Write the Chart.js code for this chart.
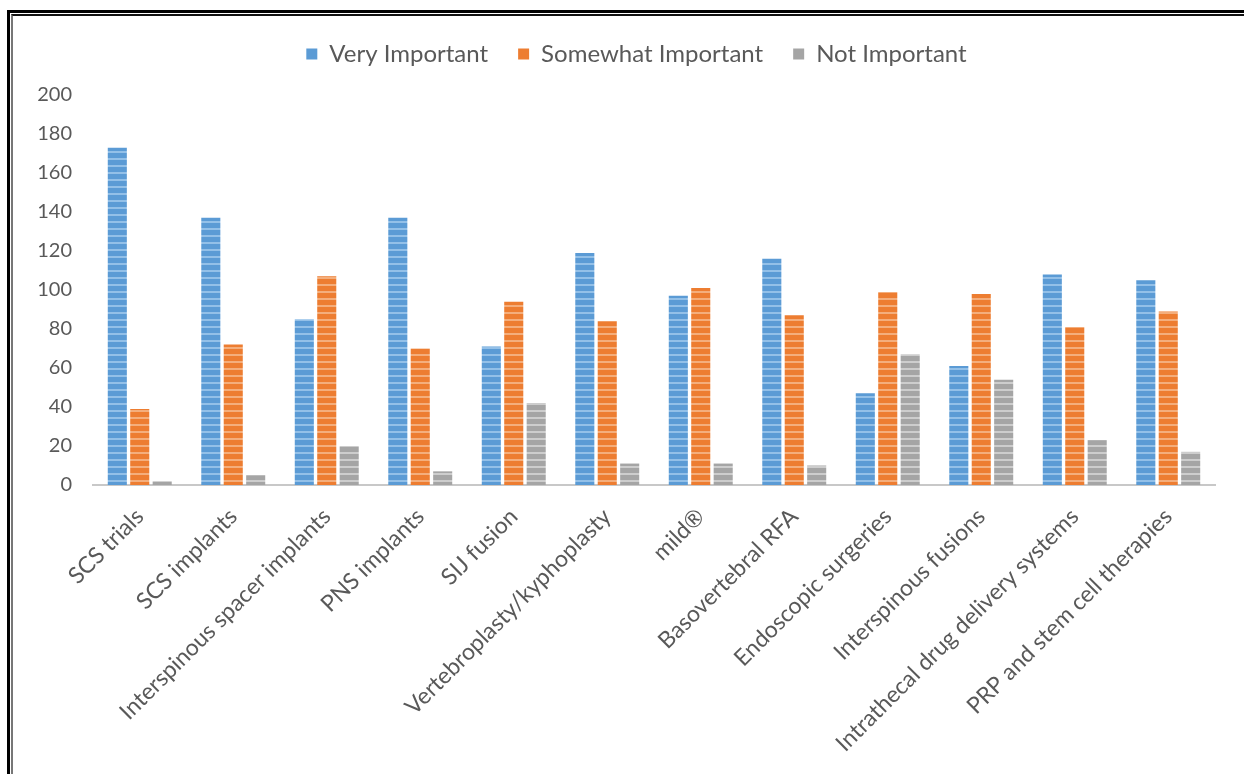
<!DOCTYPE html>
<html>
<head>
<meta charset="utf-8">
<title>Importance of procedures</title>
<script src="https://cdn.jsdelivr.net/npm/chart.js@4/dist/chart.umd.min.js"></script>
<style>
  html, body { margin: 0; padding: 0; background: #fff; }
  #page { position: relative; width: 1244px; height: 774px; overflow: hidden; }
  /* double rule along the top and left edges */
  .frame-outer { position: absolute; left: 7px; top: 10px; right: -20px; bottom: -20px;
    border-left: 3px solid #000; border-top: 3px solid #000; }
  .frame-inner { position: absolute; left: 11px; top: 14px; right: -20px; bottom: -20px;
    border-left: 2px solid #777; border-top: 2px solid #111; }
  #chart { position: absolute; left: 0; top: 0; }
</style>
</head>
<body>
<div id="page">
  <div class="frame-outer"></div>
  <div class="frame-inner"></div>
  <canvas id="chart" width="1244" height="774"></canvas>
</div>
<script>
// Procedure importance survey - grouped bar chart

const categories = [
  'SCS trials',
  'SCS implants',
  'Interspinous spacer implants',
  'PNS implants',
  'SIJ fusion',
  'Vertebroplasty/kyphoplasty',
  'mild\u00AE',
  'Basovertebral RFA',
  'Endoscopic surgeries',
  'Interspinous fusions',
  'Intrathecal drug delivery systems',
  'PRP and stem cell therapies'
];

const seriesNames = ['Very Important', 'Somewhat Important', 'Not Important'];

const veryImportant = [173, 137, 85, 137, 71, 119, 97, 116, 47, 61, 108, 105];
const somewhatImportant = [39, 72, 107, 70, 94, 84, 101, 87, 99, 98, 81, 89];
const notImportant = [2, 5, 20, 7, 42, 11, 11, 10, 67, 54, 23, 17];

const yTicks = [0, 20, 40, 60, 80, 100, 120, 140, 160, 180, 200];

const FONT = 'Lato, "Open Sans", sans-serif';
const TEXT_COLOR = '#595959';

const baseColors = ['#5b9bd5', '#ed7d31', '#a5a5a5'];
const stripeColors = ['#93c0e8', '#f4ae7c', '#cdcdcd'];

// ============================================================================
// Helpers
// ============================================================================

// Horizontal banding used to fill each bar
function makeStripes(ctx, base, light) {
  const tile = document.createElement('canvas');
  tile.width = 8;
  tile.height = 7;
  const t = tile.getContext('2d');
  t.fillStyle = base;
  t.fillRect(0, 0, 8, 7);
  t.fillStyle = light;
  t.fillRect(0, 4, 8, 2);
  return ctx.createPattern(tile, 'repeat');
}

// Pins the plot area so the axes land where they should
const PLOT = { left: 93, right: 1215, top: 95, bottom: 485 };
const PAD_TOP = 12;
const LEGEND_SHIFT = 29;

const legendPlacement = {
  id: 'legendPlacement',
  beforeInit(chart) {
    const fit = chart.legend.fit;
    chart.legend.fit = function () {
      fit.bind(chart.legend)();
      this.height = PLOT.top - PAD_TOP;
    };
  },
  afterLayout(chart) {
    // legend sits a little right of the canvas centre
    chart.legend.left += LEGEND_SHIFT;
    chart.legend.right += LEGEND_SHIFT;
  }
};

// ============================================================================
// Chart
// ============================================================================

function renderChart() {
  const canvas = document.getElementById('chart');
  const ctx = canvas.getContext('2d');
  const values = [veryImportant, somewhatImportant, notImportant];

  const datasets = seriesNames.map((name, i) => ({
    label: name,
    data: values[i],
    backgroundColor: makeStripes(ctx, baseColors[i], stripeColors[i]),
    borderWidth: 0,
    categoryPercentage: 0.72,
    barPercentage: 0.85
  }));

  new Chart(canvas, {
    type: 'bar',
    data: { labels: categories, datasets: datasets },
    plugins: [legendPlacement],
    options: {
      responsive: false,
      animation: false,
      layout: { padding: { top: PAD_TOP, right: 1244 - PLOT.right, left: 0, bottom: 0 } },
      plugins: {
        tooltip: { enabled: false },
        legend: {
          position: 'top',
          align: 'center',
          labels: {
            color: TEXT_COLOR,
            font: { family: FONT, size: 24 },
            boxWidth: 11,
            boxHeight: 11,
            padding: 30,
            generateLabels: function (chart) {
              return chart.data.datasets.map((ds, i) => ({
                text: ds.label,
                fillStyle: baseColors[i],
                strokeStyle: baseColors[i],
                lineWidth: 0,
                datasetIndex: i,
                fontColor: TEXT_COLOR
              }));
            }
          }
        }
      },
      scales: {
        x: {
          grid: { display: false, drawTicks: false },
          border: { display: true, color: '#c8c8c8', width: 2 },
          ticks: {
            color: TEXT_COLOR,
            font: { family: FONT, size: 23 },
            minRotation: 45,
            maxRotation: 45,
            autoSkip: false,
            padding: 18
          },
          afterFit: function (scale) {
            scale.height = 774 - PLOT.bottom;
          }
        },
        y: {
          min: 0,
          max: 200,
          grid: { display: false, drawTicks: false },
          border: { display: false },
          afterBuildTicks: function (scale) {
            scale.ticks = yTicks.map((v) => ({ value: v }));
          },
          ticks: {
            color: TEXT_COLOR,
            font: { family: FONT, size: 20 },
            padding: 21
          },
          afterFit: function (scale) {
            scale.width = PLOT.left;
          }
        }
      }
    }
  });
}

document.addEventListener('DOMContentLoaded', () => {
  renderChart();
});
</script>
</body>
</html>
